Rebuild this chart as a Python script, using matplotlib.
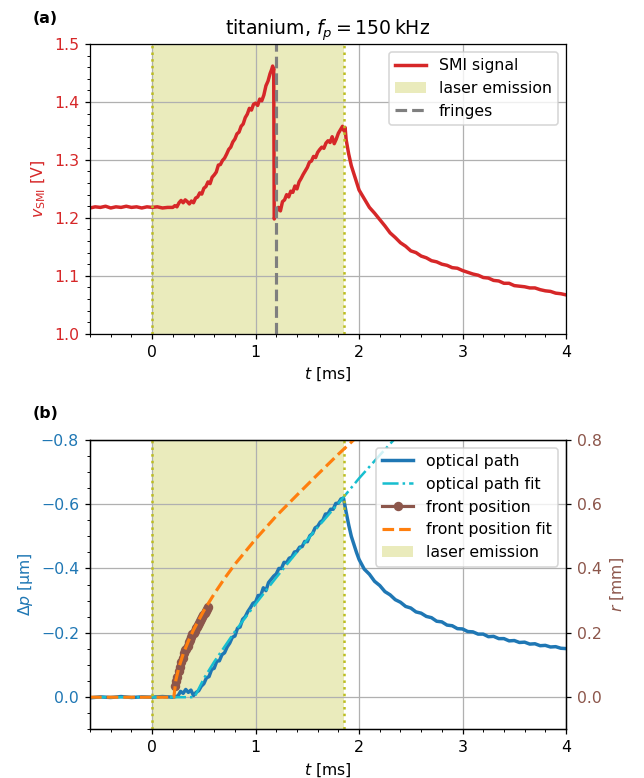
import numpy as np
import matplotlib
matplotlib.use('Agg')
import matplotlib.pyplot as plt
from matplotlib.ticker import MultipleLocator

DPI = 113

#pulse window and fringe position [ms]
LASER_ON = 0.0
LASER_OFF = 1.85
FRINGE_T = 1.198

#SMI signal [V]
smi_t = [-0.6, -0.55, -0.5, -0.45, -0.4, -0.35, -0.3, -0.25, -0.2, -0.15, -0.1, -0.05, 0.0,
	0.05, 0.1, 0.15,
	0.20, 0.22, 0.24, 0.26, 0.28, 0.30, 0.32, 0.34, 0.36, 0.38, 0.40, 0.42, 0.44, 0.46, 0.48,
	0.50, 0.52, 0.54, 0.56, 0.58, 0.60, 0.62, 0.64, 0.66, 0.68, 0.70, 0.72, 0.74, 0.76, 0.78,
	0.80, 0.82, 0.84, 0.86, 0.88, 0.90, 0.92, 0.94, 0.96, 0.98, 1.00, 1.02, 1.04, 1.06, 1.08,
	1.10, 1.12, 1.14, 1.155, 1.165, 1.17, 1.175,
	1.18, 1.20, 1.22, 1.24, 1.26, 1.28, 1.30, 1.32, 1.34, 1.36, 1.38, 1.40, 1.42, 1.44, 1.46,
	1.48, 1.50, 1.52, 1.54, 1.56, 1.58, 1.60, 1.62, 1.64, 1.66, 1.68, 1.70, 1.72, 1.74, 1.76,
	1.78, 1.80, 1.82, 1.84, 1.855, 1.865,
	1.875, 1.9, 1.925, 1.95, 1.975, 2.0, 2.05, 2.1, 2.15, 2.2, 2.25, 2.3, 2.35, 2.4, 2.45, 2.5,
	2.55, 2.6, 2.65, 2.7, 2.75, 2.8, 2.85, 2.9, 2.95, 3.0, 3.05, 3.1, 3.15, 3.2, 3.25, 3.3, 3.35,
	3.4, 3.45, 3.5, 3.55, 3.6, 3.65, 3.7, 3.75, 3.8, 3.85, 3.9, 3.95, 4.0]
smi_v = [1.217, 1.219, 1.218, 1.220, 1.217, 1.219, 1.218, 1.220, 1.218, 1.219, 1.217, 1.219, 1.218,
	1.219, 1.217, 1.218,
	1.218, 1.221, 1.219, 1.226, 1.230, 1.226, 1.231, 1.228, 1.224, 1.229, 1.226, 1.234, 1.236, 1.243, 1.241,
	1.251, 1.254, 1.262, 1.259, 1.270, 1.274, 1.279, 1.291, 1.292, 1.299, 1.303, 1.310, 1.318, 1.322, 1.331,
	1.336, 1.345, 1.348, 1.358, 1.362, 1.373, 1.379, 1.389, 1.386, 1.396, 1.398, 1.394, 1.405, 1.402, 1.412,
	1.428, 1.436, 1.449, 1.456, 1.462, 1.452, 1.458,
	1.198, 1.210, 1.218, 1.212, 1.228, 1.231, 1.240, 1.236, 1.246, 1.244, 1.255, 1.250, 1.262, 1.268, 1.275,
	1.281, 1.287, 1.296, 1.298, 1.306, 1.304, 1.313, 1.318, 1.322, 1.320, 1.329, 1.333, 1.330, 1.340, 1.328,
	1.336, 1.346, 1.352, 1.358, 1.350, 1.356,
	1.335, 1.310, 1.290, 1.276, 1.262, 1.248, 1.233, 1.218, 1.208, 1.197, 1.186, 1.174, 1.166, 1.157, 1.151, 1.143,
	1.140, 1.134, 1.131, 1.126, 1.124, 1.120, 1.118, 1.114, 1.113, 1.109, 1.106, 1.103, 1.101, 1.097, 1.096, 1.092, 1.091,
	1.087, 1.087, 1.083, 1.082, 1.081, 1.079, 1.079, 1.076, 1.074, 1.073, 1.070, 1.069, 1.067]

#optical path change [um]
op_t = [-0.6, -0.5, -0.4, -0.3, -0.2, -0.1, 0.0, 0.1, 0.2, 0.25, 0.275, 0.3, 0.325, 0.35, 0.375,
	0.4, 0.425, 0.45, 0.475, 0.5, 0.525, 0.55, 0.575, 0.6, 0.625, 0.65, 0.675, 0.7, 0.725, 0.75,
	0.775, 0.8, 0.825, 0.85, 0.875, 0.9, 0.925, 0.95, 0.975, 1.0, 1.025, 1.05, 1.075, 1.1, 1.125,
	1.15, 1.175, 1.2, 1.225, 1.25, 1.275, 1.3, 1.325, 1.35, 1.375, 1.4, 1.425, 1.45, 1.475, 1.5,
	1.525, 1.55, 1.575, 1.6, 1.625, 1.65, 1.675, 1.7, 1.725, 1.75, 1.775, 1.8, 1.825, 1.85,
	1.875, 1.9, 1.925, 1.95, 1.975, 2.0, 2.05, 2.1, 2.15, 2.2, 2.25, 2.3, 2.35, 2.4, 2.45, 2.5,
	2.55, 2.6, 2.65, 2.7, 2.75, 2.8, 2.85, 2.9, 2.95, 3.0, 3.05, 3.1, 3.15, 3.2, 3.25, 3.3, 3.35,
	3.4, 3.45, 3.5, 3.55, 3.6, 3.65, 3.7, 3.75, 3.8, 3.85, 3.9, 3.95, 4.0]
op_p = [0.002, -0.001, 0.001, -0.002, 0.001, -0.001, 0.0, -0.002, 0.0, -0.004, -0.018, -0.012, -0.024, -0.015, -0.022,
	-0.005, -0.015, -0.020, -0.034, -0.042, -0.060, -0.064, -0.086, -0.090, -0.112, -0.113, -0.132, -0.138, -0.156, -0.168,
	-0.186, -0.190, -0.214, -0.218, -0.242, -0.250, -0.266, -0.278, -0.292, -0.296, -0.316, -0.316, -0.340, -0.331, -0.356,
	-0.366, -0.376, -0.383, -0.400, -0.400, -0.419, -0.418, -0.432, -0.435, -0.451, -0.453, -0.466, -0.468, -0.484, -0.483,
	-0.502, -0.508, -0.526, -0.531, -0.544, -0.550, -0.569, -0.570, -0.584, -0.584, -0.602, -0.603, -0.616, -0.618,
	-0.575, -0.535, -0.500, -0.475, -0.450, -0.428, -0.398, -0.382, -0.360, -0.347, -0.328, -0.318, -0.303, -0.295, -0.282, -0.277,
	-0.265, -0.261, -0.251, -0.247, -0.236, -0.234, -0.224, -0.222, -0.213, -0.212, -0.204, -0.203, -0.196, -0.196, -0.188, -0.189, -0.182,
	-0.182, -0.175, -0.176, -0.170, -0.171, -0.165, -0.166, -0.160, -0.161, -0.156, -0.157, -0.152, -0.151]

#fit of the optical path [um]
opfit_t = [-0.6, 0.41, 0.5, 0.6, 0.8, 1.0, 1.2, 1.4, 1.6, 1.8, 2.0, 2.2, 2.4]
opfit_p = [0.0, 0.0, -0.058, -0.110, -0.204, -0.290, -0.372, -0.451, -0.528, -0.602, -0.680, -0.752, -0.822]

#front position from camera [mm]
front_t = [0.222, 0.232, 0.245, 0.257, 0.27, 0.282, 0.295, 0.307, 0.319, 0.331, 0.343, 0.355, 0.367,
	0.379, 0.39, 0.40, 0.41, 0.421, 0.432, 0.443, 0.455, 0.465, 0.475, 0.486, 0.496, 0.508, 0.52, 0.532, 0.544]
front_r = [0.036, 0.050, 0.062, 0.080, 0.094, 0.110, 0.122, 0.136, 0.146, 0.150, 0.160, 0.170, 0.177,
	0.188, 0.195, 0.200, 0.205, 0.214, 0.219, 0.224, 0.232, 0.238, 0.242, 0.250, 0.255, 0.262, 0.268, 0.275, 0.281]

#fit of the front position [mm]
frontfit_t = [-0.6, 0.21, 0.23, 0.26, 0.3, 0.35, 0.4, 0.5, 0.6, 0.7, 0.8, 1.0, 1.2, 1.4, 1.6, 1.8, 2.0]
frontfit_r = [0.0, 0.0, 0.054, 0.094, 0.134, 0.174, 0.209, 0.269, 0.321, 0.369, 0.413, 0.491, 0.563, 0.628, 0.692, 0.755, 0.815]

def laserShade(ax, label):
	span = ax.axvspan(LASER_ON, LASER_OFF, color='tab:olive', alpha=0.3, lw=0, label=label)
	for x in (LASER_ON, LASER_OFF):
		ax.axvline(x, color='tab:olive', ls=':', lw=1.6)
	return span

def timeAxis(ax):
	ax.set_xlim(-0.6, 4)
	ax.xaxis.set_major_locator(MultipleLocator(1))
	ax.xaxis.set_minor_locator(MultipleLocator(0.2))
	ax.set_xlabel('$t$ [ms]')
	ax.grid(True, which='major')

fig, (axTop, axBot) = plt.subplots(2, 1, figsize=(644 / DPI, 778 / DPI), dpi=DPI)
fig.subplots_adjust(left=0.1398, right=0.8789, top=0.9434, bottom=0.0625, hspace=0.366)

#(a) raw SMI signal
axTop.plot(smi_t, smi_v, color='tab:red', lw=2.2, label='SMI signal')
laserShade(axTop, 'laser emission')
axTop.axvline(FRINGE_T, color='tab:gray', ls='--', lw=2, label='fringes')
timeAxis(axTop)
axTop.set_ylim(1.0, 1.5)
axTop.yaxis.set_major_locator(MultipleLocator(0.1))
axTop.yaxis.set_minor_locator(MultipleLocator(0.02))
axTop.set_ylabel(r'$v_\mathrm{SMI}$ [V]', color='tab:red')
axTop.tick_params(axis='y', which='both', labelcolor='tab:red')
axTop.set_title(r'titanium, $f_p = 150\,$kHz')
axTop.legend(loc='upper right')

#(b) optical path and front position
l1, = axBot.plot(op_t, op_p, color='tab:blue', lw=2.2, label='optical path')
l2, = axBot.plot(opfit_t, opfit_p, color='tab:cyan', ls='-.', lw=1.6, label='optical path fit')
span = laserShade(axBot, 'laser emission')
timeAxis(axBot)
axBot.set_ylim(0.1, -0.8)
axBot.yaxis.set_major_locator(MultipleLocator(0.2))
axBot.yaxis.set_minor_locator(MultipleLocator(0.05))
axBot.set_ylabel(r'$\Delta p$ [µm]', color='tab:blue')
axBot.tick_params(axis='y', which='both', labelcolor='tab:blue')

axR = axBot.twinx()
l3, = axR.plot(front_t, front_r, color='tab:brown', marker='o', ms=5, lw=2, label='front position')
l4, = axR.plot(frontfit_t, frontfit_r, color='tab:orange', ls='--', lw=2, label='front position fit')
axR.set_ylim(-0.1, 0.8)
axR.yaxis.set_major_locator(MultipleLocator(0.2))
axR.set_ylabel('$r$ [mm]', color='tab:brown')
axR.tick_params(axis='y', labelcolor='tab:brown')
axR.legend(handles=[l1, l2, l3, l4, span], loc='upper right')

fig.text(0.05, 0.976, '(a)', fontweight='bold', va='center')
fig.text(0.05, 0.469, '(b)', fontweight='bold', va='center')

fig.savefig('out.png', dpi=DPI)
